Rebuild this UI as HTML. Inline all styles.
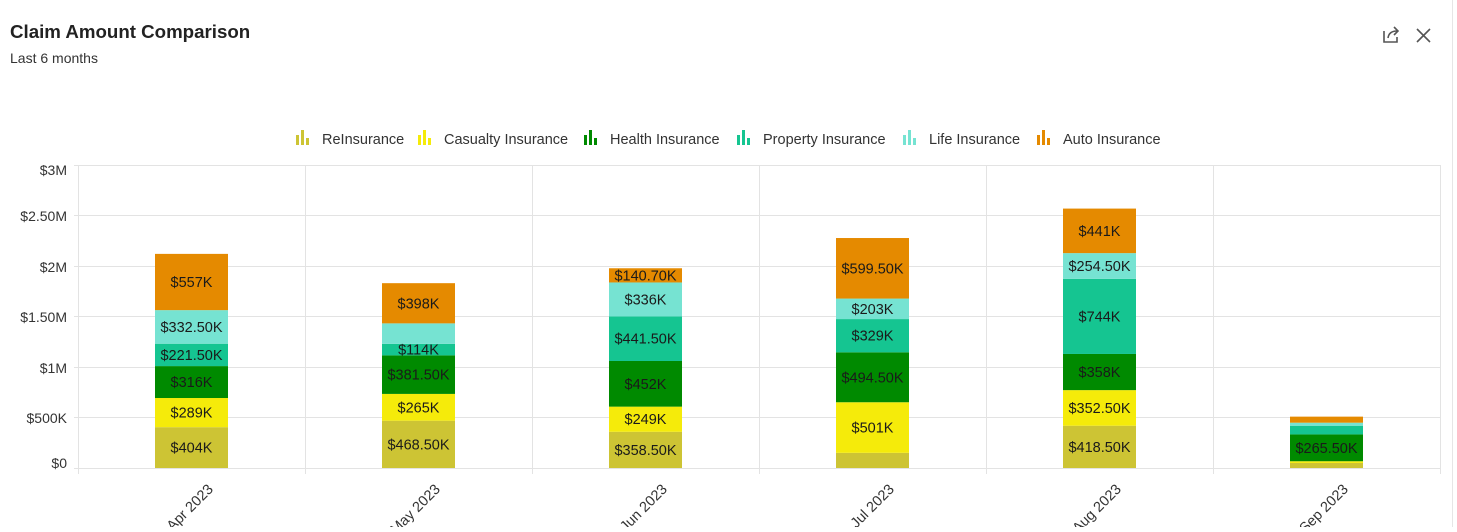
<!DOCTYPE html>
<html><head><meta charset="utf-8"><style>
body{margin:0;background:#fff;font-family:"Liberation Sans",sans-serif;}
</style></head><body>
<svg width="1457" height="527" xmlns="http://www.w3.org/2000/svg" font-family="Liberation Sans, sans-serif">
<rect width="1457" height="527" fill="#fff"/>
<line x1="1452.5" y1="0" x2="1452.5" y2="527" stroke="#e6e6e6" stroke-width="1"/>
<text x="10" y="38" font-size="18.7" font-weight="bold" fill="#222">Claim Amount Comparison</text>
<text x="10" y="63" font-size="14" fill="#333">Last 6 months</text>
<g stroke="#555" stroke-width="1.6" fill="none">
<path d="M1384 31 v11 h13 v-5"/><path d="M1388 38 q1 -7 9 -7"/><path d="M1394 27 l4 4 l-4 4"/>
<path d="M1417 29 l13 13 M1430 29 l-13 13"/>
</g>
<g font-size="14.5" fill="#333">
<g fill="#cdc434"><rect x="296" y="135" width="3" height="10"/><rect x="301" y="130" width="3" height="15"/><rect x="306" y="138" width="3" height="7"/></g><text x="322" y="144">ReInsurance</text>
<g fill="#f5eb0a"><rect x="418" y="135" width="3" height="10"/><rect x="423" y="130" width="3" height="15"/><rect x="428" y="138" width="3" height="7"/></g><text x="444" y="144">Casualty Insurance</text>
<g fill="#008a00"><rect x="584" y="135" width="3" height="10"/><rect x="589" y="130" width="3" height="15"/><rect x="594" y="138" width="3" height="7"/></g><text x="610" y="144">Health Insurance</text>
<g fill="#15c591"><rect x="737" y="135" width="3" height="10"/><rect x="742" y="130" width="3" height="15"/><rect x="747" y="138" width="3" height="7"/></g><text x="763" y="144">Property Insurance</text>
<g fill="#76e3d2"><rect x="903" y="135" width="3" height="10"/><rect x="908" y="130" width="3" height="15"/><rect x="913" y="138" width="3" height="7"/></g><text x="929" y="144">Life Insurance</text>
<g fill="#e58a00"><rect x="1037" y="135" width="3" height="10"/><rect x="1042" y="130" width="3" height="15"/><rect x="1047" y="138" width="3" height="7"/></g><text x="1063" y="144">Auto Insurance</text>
</g>
<g stroke="#e3e3e3" stroke-width="1">
<line x1="74" y1="165.5" x2="1440" y2="165.5"/><line x1="74" y1="215.5" x2="1440" y2="215.5"/>
<line x1="74" y1="266.5" x2="1440" y2="266.5"/><line x1="74" y1="316.5" x2="1440" y2="316.5"/>
<line x1="74" y1="367.5" x2="1440" y2="367.5"/><line x1="74" y1="417.5" x2="1440" y2="417.5"/>
<line x1="74" y1="468.5" x2="1440" y2="468.5"/>
<line x1="78.5" y1="165" x2="78.5" y2="474"/><line x1="305.5" y1="165" x2="305.5" y2="474"/>
<line x1="532.5" y1="165" x2="532.5" y2="474"/><line x1="759.5" y1="165" x2="759.5" y2="474"/>
<line x1="986.5" y1="165" x2="986.5" y2="474"/><line x1="1213.5" y1="165" x2="1213.5" y2="474"/>
<line x1="1440.5" y1="165" x2="1440.5" y2="474"/>
</g>
<g font-size="14" fill="#333" text-anchor="end">
<text x="67" y="175">$3M</text><text x="67" y="221">$2.50M</text><text x="67" y="272">$2M</text>
<text x="67" y="322">$1.50M</text><text x="67" y="373">$1M</text><text x="67" y="423">$500K</text><text x="67" y="468">$0</text>
</g>
<g id="bars"></g>
<g font-size="14.5" fill="#333" text-anchor="end">
<text transform="translate(214,490) rotate(-45)">Apr 2023</text>
<text transform="translate(441,490) rotate(-45)">May 2023</text>
<text transform="translate(668,490) rotate(-45)">Jun 2023</text>
<text transform="translate(895,490) rotate(-45)">Jul 2023</text>
<text transform="translate(1122,490) rotate(-45)">Aug 2023</text>
<text transform="translate(1349,490) rotate(-45)">Sep 2023</text>
</g>
</svg>
<script>
var cols=["#cdc434","#f5eb0a","#008a00","#15c591","#76e3d2","#e58a00"];
var data=[[404,289,316,221.5,332.5,557],[468.5,265,381.5,114,203,398],[358.5,249,452,441.5,336,140.7],[150,501,494.5,329,203,599.5],[418.5,352.5,358,744,254.5,441],[50,17,265.5,86,30,60]];
var lbl=[["$404K","$289K","$316K","$221.50K","$332.50K","$557K"],["$468.50K","$265K","$381.50K","$114K","","$398K"],["$358.50K","$249K","$452K","$441.50K","$336K","$140.70K"],["","$501K","$494.50K","$329K","$203K","$599.50K"],["$418.50K","$352.50K","$358K","$744K","$254.50K","$441K"],["","","$265.50K","","",""]];
var g=document.getElementById("bars"),s="";
for(var i=0;i<6;i++){var cx=191.5+227*i,y=468;for(var j=0;j<6;j++){var h=data[i][j]*0.101;y-=h;
s+='<rect x="'+(cx-36.5)+'" y="'+y+'" width="73" height="'+h+'" fill="'+cols[j]+'"/>';
if(lbl[i][j])s+='<text x="'+cx+'" y="'+(y+h/2+5)+'" font-size="14.5" fill="#1a1a1a" text-anchor="middle">'+lbl[i][j]+'</text>';}}
g.innerHTML=s;
</script>
</body></html>
